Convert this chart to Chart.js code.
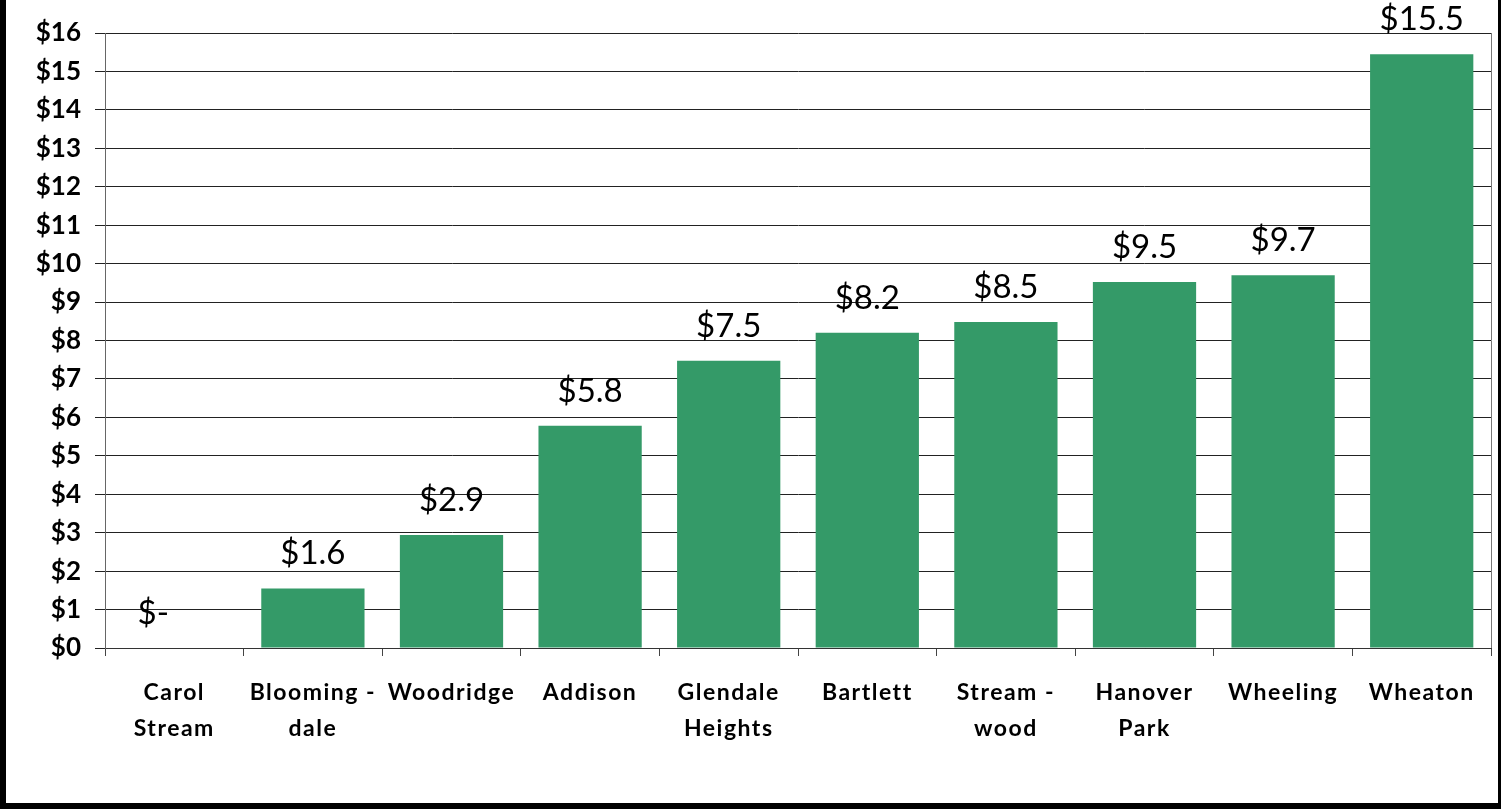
<!DOCTYPE html>
<html>
<head>
<meta charset="utf-8">
<script src="https://cdn.jsdelivr.net/npm/chart.js@4.4.1/dist/chart.umd.min.js"></script>
<style>
  html, body { margin: 0; padding: 0; background: #fff; }
  #wrap { position: relative; width: 1501px; height: 809px; }
  #frame {
    position: absolute; left: 0; top: 0; width: 1501px; height: 809px;
    box-sizing: border-box; pointer-events: none;
    border-left: 6px solid #000; border-bottom: 6px solid #000; border-right: 3px solid #000;
  }
</style>
</head>
<body>
<div id="wrap">
  <canvas id="costChart" width="1501" height="809"></canvas>
  <div id="frame"></div>
</div>
<script>
const towns = [
  ["Carol", "Stream"],
  ["Blooming -", "dale"],
  "Woodridge",
  "Addison",
  ["Glendale", "Heights"],
  "Bartlett",
  ["Stream -", "wood"],
  ["Hanover", "Park"],
  "Wheeling",
  "Wheaton"
];
const costs = [0, 1.55, 2.94, 5.78, 7.47, 8.2, 8.48, 9.52, 9.7, 15.45];
const valueLabels = ["$-", "$1.6", "$2.9", "$5.8", "$7.5", "$8.2", "$8.5", "$9.5", "$9.7", "$15.5"];

Chart.defaults.font.family = "Lato";
Chart.defaults.color = "#000";

// value labels above the bars; then widen letter spacing for the x tick labels,
// which are drawn after the datasets (ticks.z: 1)
const barLabels = {
  id: "barLabels",
  afterDatasetsDraw(chart) {
    const ctx = chart.ctx;
    const meta = chart.getDatasetMeta(0);
    ctx.save();
    ctx.font = "33px Lato";
    ctx.fillStyle = "#000";
    ctx.textAlign = "center";
    ctx.textBaseline = "alphabetic";
    meta.data.forEach((bar, i) => {
      let x = bar.x;
      if (costs[i] === 0) x -= 21;
      ctx.fillText(valueLabels[i], x, bar.y - 24);
    });
    ctx.restore();
    ctx.letterSpacing = "1.5px";
  },
  afterDraw(chart) {
    chart.ctx.letterSpacing = "0px";
  }
};

const plotBorder = {
  id: "plotBorder",
  afterDraw(chart) {
    const a = chart.chartArea;
    const ctx = chart.ctx;
    ctx.save();
    ctx.strokeStyle = "#777";
    ctx.lineWidth = 1;
    ctx.beginPath();
    ctx.moveTo(a.right + 0.5, a.top);
    ctx.lineTo(a.right + 0.5, a.bottom);
    ctx.stroke();
    ctx.restore();
  }
};

new Chart(document.getElementById("costChart"), {
  type: "bar",
  data: {
    labels: towns,
    datasets: [{
      data: costs,
      backgroundColor: "#349a68",
      borderWidth: 0,
      barPercentage: 0.745,
      categoryPercentage: 1
    }]
  },
  options: {
    responsive: false,
    animation: false,
    devicePixelRatio: 1,
    layout: { padding: { left: 0, top: 33, right: 10, bottom: 0 } },
    plugins: {
      legend: { display: false },
      tooltip: { enabled: false }
    },
    scales: {
      x: {
        afterFit(scale) { scale.height = 161; },
        grid: {
          offset: true,
          drawOnChartArea: false,
          tickLength: 8,
          color: "#444"
        },
        border: { color: "#333", width: 1 },
        ticks: {
          z: 1,
          padding: 19,
          font: { size: 23, weight: "bold", lineHeight: "36px" },
          maxRotation: 0,
          autoSkip: false
        }
      },
      y: {
        min: 0,
        max: 16,
        afterFit(scale) { scale.width = 105; },
        grid: {
          color: "#222",
          tickLength: 10
        },
        border: { color: "#666", width: 1 },
        ticks: {
          stepSize: 1,
          padding: 14,
          font: { size: 26, weight: "bold" },
          callback: value => "$" + value
        }
      }
    }
  },
  plugins: [barLabels, plotBorder]
});
</script>
</body>
</html>
